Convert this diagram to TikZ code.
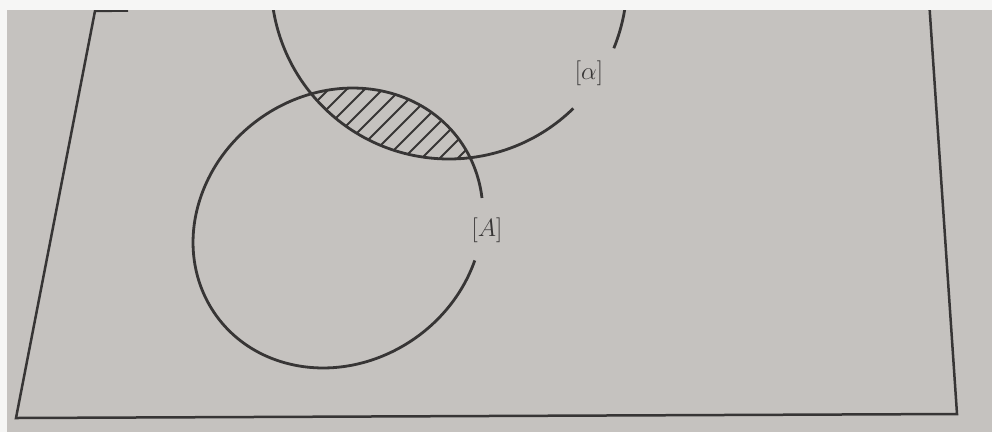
\documentclass[tikz,border=0pt]{standalone}
\definecolor{pagec}{RGB}{197,194,191}
\definecolor{inkc}{RGB}{55,53,53}
\begin{document}
\begin{tikzpicture}[x=1pt,y=-1pt,
  ink/.style={draw=inkc, line width=2.8pt},
  hatchline/.style={draw=inkc, line width=1.8pt},
  lbl/.style={text=inkc, font=\fontsize{30}{32}\selectfont, inner sep=0pt}]
\fill[pagec] (0,0) rectangle (992,432);
\fill[white!85!pagec] (0,0) rectangle (992,10);
\fill[white!85!pagec] (0,0) rectangle (7,432);
\useasboundingbox (0,0) rectangle (992,432);
\coordinate (ca) at (449,-19);
\coordinate (cA) at (338,228);
\begin{scope}
\clip (7,10) rectangle (992,432);
% frame
\draw[ink, line width=2.5pt, line join=miter] (128,10.5) -- (95,11) -- (16,418) -- (957,414) -- (929,0);
% hatching of the intersection
\begin{scope}
\clip (ca) circle[radius=178];
\clip[shift={(cA)}, rotate=35.6] (0,0) ellipse[x radius=150, y radius=134.5];
\foreach \c in {400,418,...,660} \draw[hatchline] (\c-250,250) -- (\c-50,50);
\end{scope}
% circle alpha with gap
\draw[ink] ([shift={(45.7:178)}]ca) arc[start angle=45.7, end angle=382.2, radius=178];
% circle A with gap
\draw[ink, shift={(cA)}, rotate=35.6] (52:150 and 134.5) arc[start angle=52, end angle=386.2, x radius=150, y radius=134.5];
\end{scope}
\node[lbl] (labA) at (487,230) {$[A]$};
\node[lbl] (labal) at (589,73) {$[\alpha]$};
\end{tikzpicture}
\end{document}
